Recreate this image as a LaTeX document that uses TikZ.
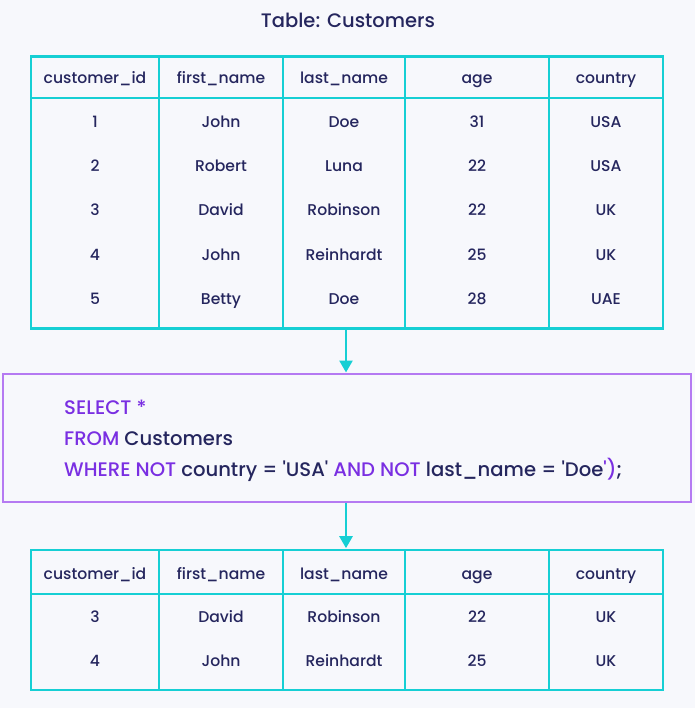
\documentclass[tikz,border=0pt]{standalone}
\usepackage{fontspec}
\setmainfont{Poppins}
\newfontfamily\pop{Poppins Medium}
\usetikzlibrary{arrows.meta}
\definecolor{bg}{HTML}{F7F8FC}
\definecolor{teal}{HTML}{16CFD4}
\definecolor{navy}{HTML}{25265E}
\definecolor{kw}{HTML}{7A2FE2}
\definecolor{pbord}{HTML}{B57AF2}
\tikzset{
  cell/.style={font=\pop\fontsize{15.6}{19}\selectfont, text=navy, inner sep=0pt, anchor=base},
  tbl/.style={draw=teal, line width=2.6pt, inner sep=0pt, rectangle},
  grid/.style={draw=teal, line width=2.6pt},
  flow/.style={draw=teal, line width=2.6pt, -{Triangle[length=12pt,width=13pt]}, shorten >=0.5pt},
  sqlbox/.style={draw=pbord, line width=2pt, fill=bg, inner sep=0pt, rectangle},
  code/.style={font=\pop\fontsize{19.6}{24}\selectfont, text=navy, inner sep=0pt, anchor=base west},
}
\newcommand{\kwd}[1]{{\color{kw}#1}}
\begin{document}
\begin{tikzpicture}[x=1pt,y=-1pt]
\fill[bg] (0,0) rectangle (695,708);
\useasboundingbox (0,0) rectangle (695,708);

\node[font=\pop\fontsize{19.5}{23}\selectfont, text=navy, inner sep=0pt, anchor=base] (title) at (348,28) {Table: Customers};

% top table
\node[tbl, minimum width=632pt, minimum height=272pt] (t1) at (347,192.5) {};
\draw[grid] (31,98) -- (663,98);
\foreach \x in {159,283,405,549} \draw[grid] (\x,56) -- (\x,329);

\foreach \x/\t [count=\i] in {95/customer\_id,221/first\_name,344/last\_name,477/age,606/country}
  \node[cell] (h1\i) at (\x,83.3) {\t};

\foreach \y/\a/\b/\c/\d/\e [count=\r] in {
  128/1/John/Doe/31/USA,
  172/2/Robert/Luna/22/USA,
  216/3/David/Robinson/22/UK,
  260/4/John/Reinhardt/25/UK,
  304/5/Betty/Doe/28/UAE}{
  \node[cell] (a\r) at (95,\y) {\a};
  \node[cell] (b\r) at (221,\y) {\b};
  \node[cell] (c\r) at (344,\y) {\c};
  \node[cell] (d\r) at (477,\y) {\d};
  \node[cell] (e\r) at (606,\y) {\e};
}

% SQL box
\node[sqlbox, minimum width=688pt, minimum height=128pt] (sql) at (347,438) {};
\node[code] (l1) at (64,414) {\kwd{SELECT *}};
\node[code] (l2) at (64,445) {\kwd{FROM} Customers};
\node[code] (l3) at (64,476) {\kwd{WHERE NOT} country = 'USA' \kwd{AND NOT} last\_name = 'Doe\kwd{')};};

% bottom table
\node[tbl, minimum width=632pt, minimum height=140pt] (t2) at (347,620) {};
\draw[grid] (31,594) -- (663,594);
\foreach \x in {159,283,405,549} \draw[grid] (\x,550) -- (\x,690);

\foreach \x/\t [count=\i] in {95/customer\_id,221/first\_name,344/last\_name,477/age,606/country}
  \node[cell] (h2\i) at (\x,579) {\t};

\foreach \y/\a/\b/\c/\d/\e [count=\r] in {
  622/3/David/Robinson/22/UK,
  666/4/John/Reinhardt/25/UK}{
  \node[cell] (p\r) at (95,\y) {\a};
  \node[cell] (q\r) at (221,\y) {\b};
  \node[cell] (s\r) at (344,\y) {\c};
  \node[cell] (u\r) at (477,\y) {\d};
  \node[cell] (v\r) at (606,\y) {\e};
}

% arrows
\draw[flow] (t1.south -| 346,0) -- (sql.north -| 346,0);
\draw[flow] (sql.south -| 346,0) -- (t2.north -| 346,0);
\end{tikzpicture}
\end{document}
